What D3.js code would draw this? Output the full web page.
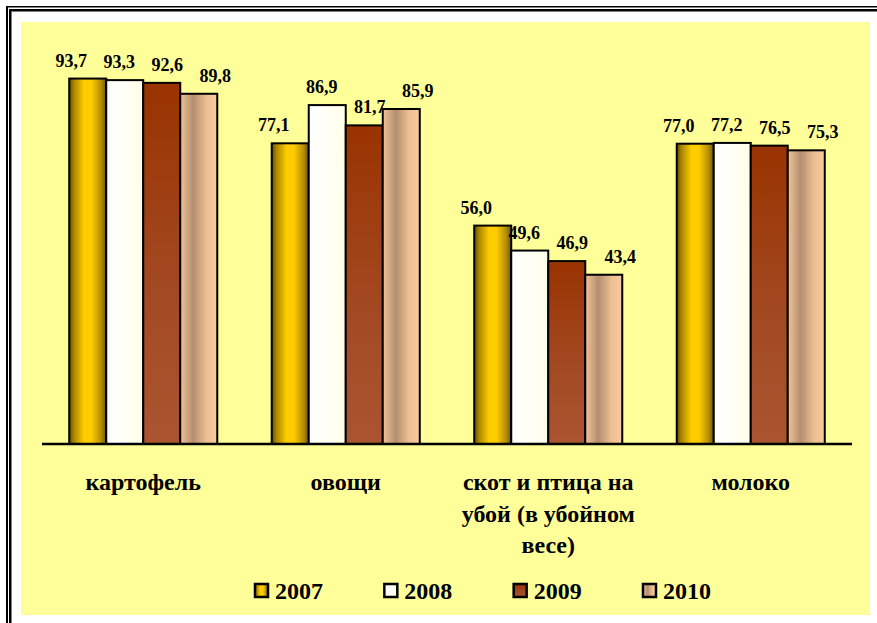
<!DOCTYPE html>
<html><head><meta charset="utf-8">
<script src="https://cdn.jsdelivr.net/npm/d3@7"></script>
<style>html,body{margin:0;padding:0;background:#fff;} svg{display:block;}</style>
</head><body>
<svg id="chart" width="877" height="623"></svg>
<script>
const categories = ["картофель", "овощи", "скот и птица на убой (в убойном весе)", "молоко"];
const categoryLines = [["картофель"], ["овощи"], ["скот и птица на", "убой (в убойном", "весе)"], ["молоко"]];
const years = ["2007", "2008", "2009", "2010"];
const values2007 = [93.7, 77.1, 56.0, 77.0];
const values2008 = [93.3, 86.9, 49.6, 77.2];
const values2009 = [92.6, 81.7, 46.9, 76.5];
const values2010 = [89.8, 85.9, 43.4, 75.3];
const seriesValues = [values2007, values2008, values2009, values2010];

const svg = d3.select("#chart");
const defs = svg.append("defs");
function grad(id, stops, vertical) {
  const g = defs.append("linearGradient").attr("id", id)
    .attr("x1", 0).attr("y1", 0).attr("x2", vertical ? 0 : 1).attr("y2", vertical ? 1 : 0);
  stops.forEach(s => g.append("stop").attr("offset", s[0]).attr("stop-color", s[1]));
}
grad("g2007", [[0, "#5e4a00"], [0.12, "#a88400"], [0.4, "#ffcc00"], [0.6, "#ffcc00"], [0.85, "#b89000"], [1, "#6e5800"]]);
grad("g2008", [[0, "#ffffff"], [0.6, "#fffff4"], [1, "#ffffe6"]]);
grad("g2009", [[0, "#993300"], [0.6, "#a34a24"], [1, "#aa5530"]], true);
grad("g2010", [[0, "#f3c396"], [0.35, "#b38f70"], [0.7, "#ecbe92"], [1, "#f9cc9e"]]);
const fills = ["url(#g2007)", "url(#g2008)", "url(#g2009)", "url(#g2010)"];

// frame
svg.append("rect").attr("x", 21).attr("y", 22).attr("width", 849).attr("height", 593).attr("fill", "#ffff99");
svg.append("rect").attr("x", 6).attr("y", 6).attr("width", 2).attr("height", 617).attr("fill", "#000");
svg.append("rect").attr("x", 9).attr("y", 9).attr("width", 2.5).attr("height", 614).attr("fill", "#000");
svg.append("rect").attr("x", 6).attr("y", 6).attr("width", 871).attr("height", 1.5).attr("fill", "#000");
svg.append("rect").attr("x", 9).attr("y", 9).attr("width", 868).attr("height", 2.5).attr("fill", "#000");

const x0 = d3.scaleBand().domain(categories).range([42, 852]).paddingInner(0).paddingOuter(0);
const x1 = d3.scaleBand().domain(years).range([0, x0.bandwidth()]).paddingInner(0).paddingOuter(0.736);
const xl = d3.scalePoint().domain(years).range([-72, 72]);
const y = d3.scaleLinear().domain([0, 100]).range([444, 54]);
const fmt = v => d3.format(".1f")(v).replace(".", ",");

const groups = svg.append("g").selectAll("g").data(categories).join("g")
  .attr("transform", d => `translate(${x0(d)},0)`);

groups.each(function(cat, ci) {
  const g = d3.select(this);
  years.forEach((yr, si) => {
    const v = seriesValues[si][ci];
    g.append("rect")
      .attr("x", x1(yr)).attr("y", y(v))
      .attr("width", x1.bandwidth()).attr("height", y(0) - y(v))
      .attr("fill", fills[si]).attr("stroke", "#000").attr("stroke-width", 2);
    g.append("text")
      .attr("x", x0.bandwidth() / 2 + xl(yr)).attr("y", y(v) - 12)
      .attr("text-anchor", "middle")
      .attr("font-family", "Liberation Serif, Times New Roman, serif")
      .attr("font-weight", "bold").attr("font-size", 18)
      .text(fmt(v));
  });
});

// baseline
svg.append("line").attr("x1", 42).attr("x2", 852).attr("y1", y(0)).attr("y2", y(0))
  .attr("stroke", "#000").attr("stroke-width", 2.5);

// category labels
categories.forEach((c, ci) => {
  const t = svg.append("text")
    .attr("text-anchor", "middle")
    .attr("font-family", "Liberation Serif, Times New Roman, serif")
    .attr("font-weight", "bold").attr("font-size", 24);
  categoryLines[ci].forEach((line, li) => {
    t.append("tspan").attr("x", x0(c) + x0.bandwidth() / 2).attr("y", 490 + li * 31.5).text(line);
  });
});

// legend
const lx = d3.scalePoint().domain(years).range([255, 643]);
years.forEach((yr, si) => {
  svg.append("rect").attr("x", lx(yr)).attr("y", 584).attr("width", 13).attr("height", 13)
    .attr("fill", fills[si]).attr("stroke", "#000").attr("stroke-width", 2.5);
  svg.append("text").attr("x", lx(yr) + 20).attr("y", 599)
    .attr("font-family", "Liberation Serif, Times New Roman, serif")
    .attr("font-weight", "bold").attr("font-size", 24)
    .text(yr);
});
</script>
</body></html>
